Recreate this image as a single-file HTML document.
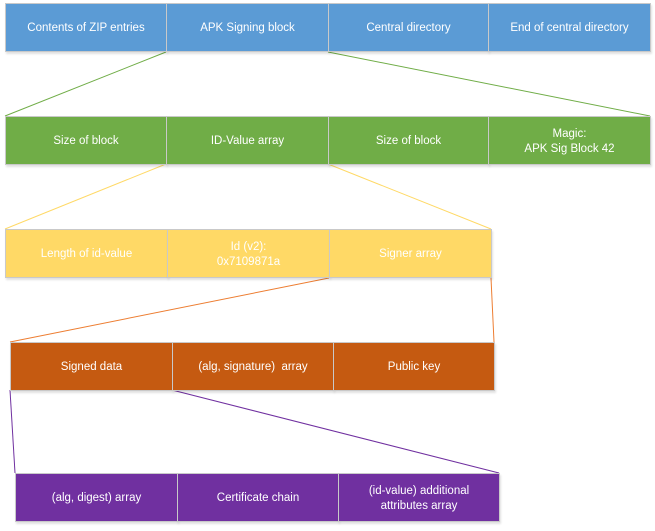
<!DOCTYPE html>
<html><head><meta charset="utf-8"><style>
body{margin:0;width:655px;height:531px;background:#fff;position:relative;overflow:hidden;font-family:"Liberation Sans",sans-serif}
.c{position:absolute;display:flex;align-items:center;justify-content:center;text-align:center;color:#fff;font-size:11.5px;line-height:15px;box-sizing:border-box;border:1px solid #c9c9c9;box-shadow:1px 2px 2px rgba(0,0,0,0.12);padding-top:2px}
svg{position:absolute;left:0;top:0}
</style></head><body>
<svg width="655" height="531">
<line x1="166" y1="52" x2="5" y2="116" stroke="#70ad47" stroke-width="1"/>
<line x1="328" y1="52" x2="650" y2="116" stroke="#70ad47" stroke-width="1"/>
<line x1="166" y1="164" x2="5" y2="229" stroke="#ffd966" stroke-width="1"/>
<line x1="328" y1="164" x2="491" y2="229" stroke="#ffd966" stroke-width="1"/>
<line x1="329" y1="278" x2="10" y2="342" stroke="#ed7d31" stroke-width="1"/>
<line x1="491" y1="278" x2="494" y2="342" stroke="#ed7d31" stroke-width="1"/>
<line x1="10" y1="390" x2="15" y2="473" stroke="#7030a0" stroke-width="1"/>
<line x1="172" y1="390" x2="499" y2="473" stroke="#7030a0" stroke-width="1"/>
</svg>
<div class="c" style="left:5px;top:3px;width:162px;height:49px;background:#5b9bd5">Contents of ZIP entries</div>
<div class="c" style="left:166px;top:3px;width:163px;height:49px;background:#5b9bd5">APK Signing block</div>
<div class="c" style="left:328px;top:3px;width:161px;height:49px;background:#5b9bd5">Central directory</div>
<div class="c" style="left:488px;top:3px;width:163px;height:49px;background:#5b9bd5">End of central directory</div>

<div class="c" style="left:5px;top:116px;width:162px;height:49px;background:#70ad47">Size of block</div>
<div class="c" style="left:166px;top:116px;width:163px;height:49px;background:#70ad47">ID-Value array</div>
<div class="c" style="left:328px;top:116px;width:161px;height:49px;background:#70ad47">Size of block</div>
<div class="c" style="left:488px;top:116px;width:163px;height:49px;background:#70ad47">Magic:<br>APK Sig Block 42</div>

<div class="c" style="left:5px;top:229px;width:163px;height:49px;background:#ffd966">Length of id-value</div>
<div class="c" style="left:167px;top:229px;width:163px;height:49px;background:#ffd966">Id (v2):<br>0x7109871a</div>
<div class="c" style="left:329px;top:229px;width:163px;height:49px;background:#ffd966">Signer array</div>

<div class="c" style="left:10px;top:342px;width:163px;height:49px;background:#c55a11">Signed data</div>
<div class="c" style="left:172px;top:342px;width:162px;height:49px;background:#c55a11">(alg, signature)&nbsp; array</div>
<div class="c" style="left:333px;top:342px;width:162px;height:49px;background:#c55a11">Public key</div>

<div class="c" style="left:15px;top:473px;width:163px;height:49px;background:#7030a0">(alg, digest) array</div>
<div class="c" style="left:177px;top:473px;width:162px;height:49px;background:#7030a0">Certificate chain</div>
<div class="c" style="left:338px;top:473px;width:162px;height:49px;background:#7030a0">(id-value) additional<br>attributes array</div>
</body></html>
